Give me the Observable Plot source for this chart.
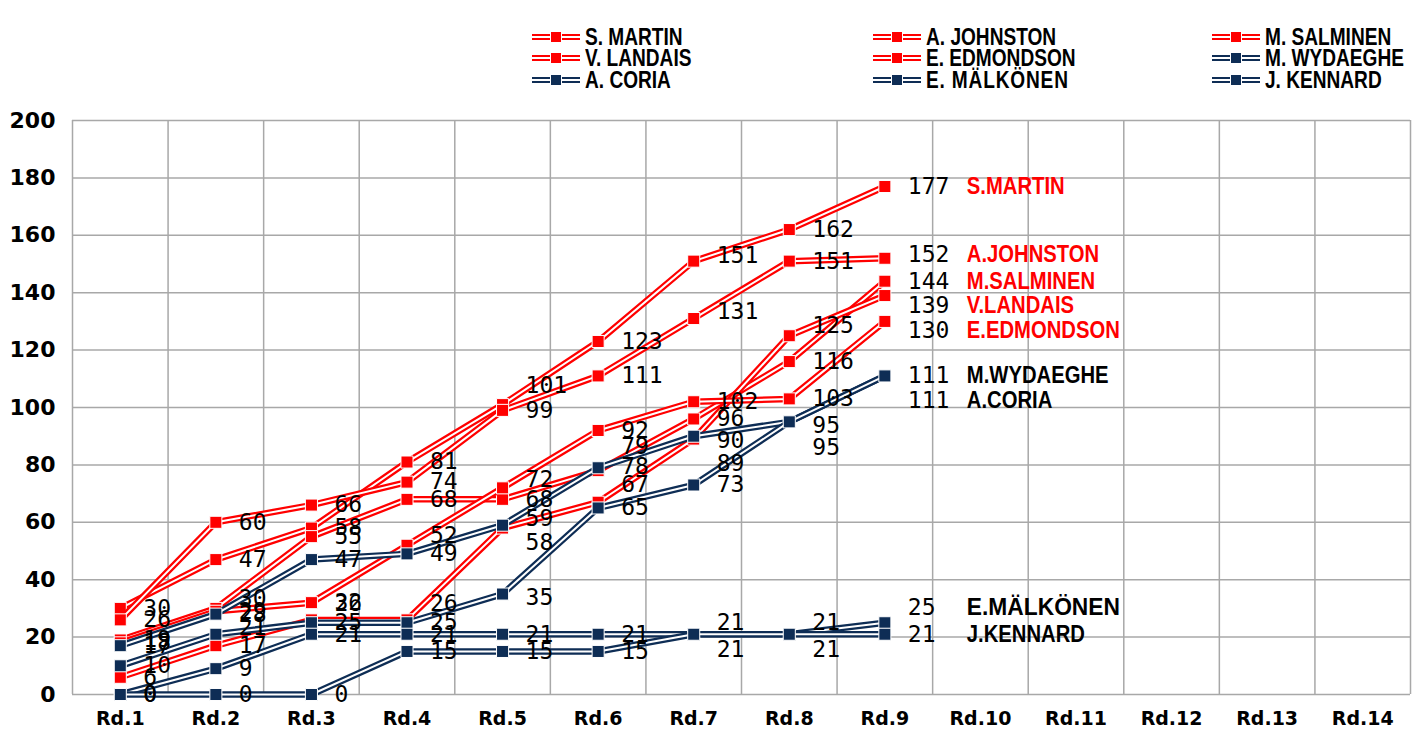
<!DOCTYPE html>
<html><head><meta charset="utf-8">
<script src="https://cdn.jsdelivr.net/npm/d3@7"></script>
<script src="https://cdn.jsdelivr.net/npm/@observablehq/plot@0.6"></script>
<style>
body{margin:0;background:#fff;width:1425px;height:751px;overflow:hidden;font-family:"Liberation Sans",Arial,sans-serif}
#legend{position:relative;height:100px;width:1425px}
.item{position:absolute;display:flex;align-items:center;height:22px}
.item svg{flex:none}
.item span{font-weight:bold;font-size:23px;transform:scaleX(.83);transform-origin:left center;white-space:nowrap;margin-left:5px;color:#000}
</style></head><body>
<div id="legend"></div><div id="chart"></div>
<script>
const rounds = ["Rd.1","Rd.2","Rd.3","Rd.4","Rd.5","Rd.6","Rd.7","Rd.8","Rd.9","Rd.10","Rd.11","Rd.12","Rd.13","Rd.14"];
const players = ["S.MARTIN","A.JOHNSTON","M.SALMINEN","V.LANDAIS","E.EDMONDSON","M.WYDAEGHE","A.CORIA","E.MÄLKÖNEN","J.KENNARD"];
const legendLabels = ["S. MARTIN","A. JOHNSTON","M. SALMINEN","V. LANDAIS","E. EDMONDSON","M. WYDAEGHE","A. CORIA","E. MÄLKÖNEN","J. KENNARD"];
const teams = ["red","red","red","red","red","navy","navy","navy","navy"];

const martin    = [30, 47, 58, 81, 101, 123, 151, 162, 177];
const johnston  = [26, 60, 66, 74, 99, 111, 131, 151, 152];
const salminen  = [19, 30, 55, 68, 68, 78, 96, 116, 144];
const landais   = [6, 17, 26, 26, 58, 67, 89, 125, 139];
const edmondson = [18, 29, 32, 52, 72, 92, 102, 103, 130];
const wydaeghe  = [17, 28, 47, 49, 59, 79, 90, 95, 111];
const coria     = [10, 21, 25, 25, 35, 65, 73, 95, 111];
const malkonen  = [0, 9, 21, 21, 21, 21, 21, 21, 25];
const kennard   = [0, 0, 0, 15, 15, 15, 21, 21, 21];
const scores = [martin, johnston, salminen, landais, edmondson, wydaeghe, coria, malkonen, kennard];

// styling / layout (not data): colours and hand-placed label nudges in px [series, round, dy]
const palette = {red: "#ff0000", navy: "#0e2d55"};
const nameColor = {red: "#ff0000", navy: "#000000"};
const labelNudges = [
  [2,2,-10],[6,2,-7],
  [3,3,-16],
  [4,4,-10],[3,4,-16],
  [0,5,-19],[4,5,-8],[5,5,-7],[3,5,15],[6,5,4],
  [5,6,-21],[2,6,-4],[3,6,-18],
  [0,7,-6],[1,7,-7],[5,7,4],[3,7,25],[7,7,-12],[8,7,15],
  [3,8,-10],[5,8,4],[6,8,26],[7,8,-12],[8,8,15],
  [1,9,-4],[3,9,10],[4,9,9],[6,9,25],[7,9,-15]
];
const nudgeOf = new Map(labelNudges.map(([s, r, dy]) => [players[s] + "|" + r, dy]));

const series = players.map((p, i) => scores[i].map((v, j) => ({player: p, team: teams[i], round: j + 1, value: v})));
const rows = series.flat();
const lastRound = d3.max(scores, s => s.length);
rows.forEach(d => d.dy = nudgeOf.get(d.player + "|" + d.round) || 0);

// legend
const legend = d3.select("#legend");
const colX = [532, 873, 1212], rowY = [37, 58, 80];
legendLabels.forEach((lab, i) => {
  const c = palette[teams[i]];
  const item = legend.append("div").attr("class", "item")
    .style("left", colX[i % 3] + "px").style("top", (rowY[Math.floor(i / 3)] - 11) + "px");
  item.html(`<svg width="48" height="14"><line x1="0" x2="48" y1="7" y2="7" stroke="${c}" stroke-width="6"/><line x1="0" x2="48" y1="7" y2="7" stroke="#fff" stroke-width="2"/><rect x="18.5" y="1.5" width="11" height="11" fill="${c}" stroke="#fff" stroke-width="1"/></svg><span${lab.includes("Ä") ? ' style="letter-spacing:1px"' : ''}>${lab}</span>`);
});

const marks = [
  Plot.ruleY(d3.range(0, 201, 20), {stroke: "#a8a8a8", strokeWidth: 1.5}),
  Plot.ruleX(d3.range(0.5, rounds.length + 0.6, 1), {stroke: "#a8a8a8", strokeWidth: 1.5})
];
series.forEach((s, i) => {
  const c = palette[teams[i]];
  marks.push(
    Plot.line(s, {x: "round", y: "value", stroke: c, strokeWidth: 6.5}),
    Plot.line(s, {x: "round", y: "value", stroke: "#fff", strokeWidth: 2}),
    Plot.dot(s, {x: "round", y: "value", symbol: "square", r: 6.8, fill: c, stroke: "#fff", strokeWidth: 1})
  );
});
// value labels, grouped by their nudge
const groups = d3.group(rows, d => d.dy);
for (const [dy, g] of groups) {
  marks.push(Plot.text(g, {x: "round", y: "value", text: d => String(d.value), dx: 23, dy, textAnchor: "start", fontFamily: "DejaVu Sans Mono", fontSize: 23, fill: "#000"}));
  const ends = g.filter(d => d.round === lastRound);
  if (ends.length) {
    marks.push(Plot.text(ends, {x: "round", y: "value", text: "player", dx: 82, dy, textAnchor: "start", fontFamily: "Liberation Sans", fontWeight: "bold", fontSize: 23, fill: d => nameColor[d.team], className: "endname"}));
  }
}
marks.push(
  Plot.axisY({ticks: d3.range(0, 201, 20), tickSize: 0, tickPadding: 17, fontSize: 22, fontWeight: "bold", fontFamily: "DejaVu Sans", label: null}),
  Plot.axisX({ticks: d3.range(1, rounds.length + 1), tickFormat: i => rounds[i - 1], tickSize: 0, tickPadding: 17, fontSize: 19, fontWeight: "bold", fontFamily: "DejaVu Sans", label: null})
);

const chart = Plot.plot({
  width: 1425, height: 651,
  marginLeft: 72, marginRight: 15, marginTop: 20, marginBottom: 57,
  x: {type: "linear", domain: [0.5, rounds.length + 0.5]},
  y: {domain: [0, 200]},
  style: {background: "#fff", color: "#000", overflow: "visible"},
  marks
});
document.getElementById("chart").appendChild(chart);
d3.select(chart).selectAll("g.endname text").each(function() {
  const len = this.getComputedTextLength();
  const extra = this.textContent.includes("Ä") ? 0.99 : 0.88;
  this.setAttribute("textLength", len * extra);
  this.setAttribute("lengthAdjust", "spacingAndGlyphs");
});
</script>
</body></html>
